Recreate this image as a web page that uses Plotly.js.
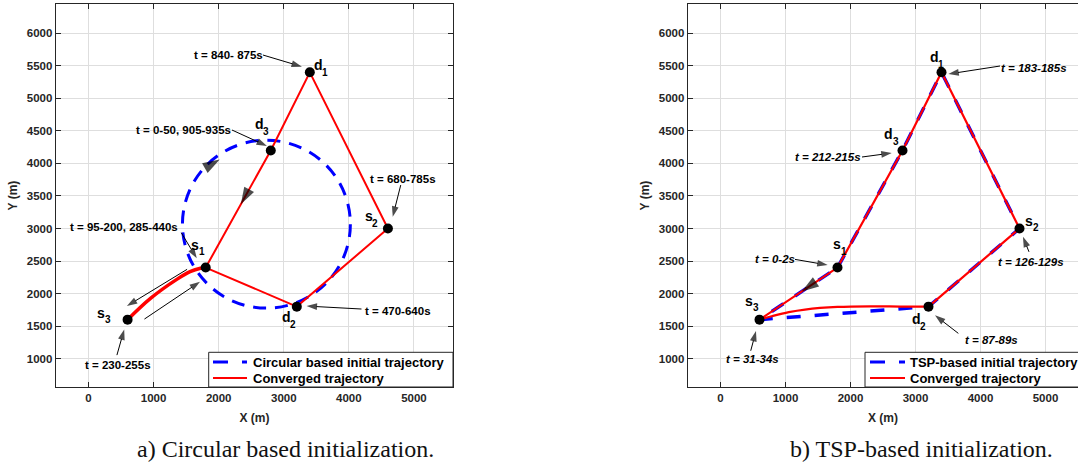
<!DOCTYPE html>
<html>
<head>
<meta charset="utf-8">
<script src="https://cdn.plot.ly/plotly-3.0.1.min.js"></script>
<style>html,body{margin:0;padding:0;background:#fff;}#chart{width:1078px;height:466px;}</style>
</head>
<body>
<div id="chart"></div>
<script>
// ---------------- data ----------------
const nodeNames = ['s1', 'd2', 's2', 'd1', 'd3', 's3'];
const nodeX = [1800, 3200, 4600, 3400, 2800, 600];
const nodeY = [2400, 1800, 3000, 5400, 4200, 1600];

// (a) circular initialization
const circleCenter = [2733, 3067];
const circleRadius = 1290;
const convAX = [1800, 2800, 3400, 4600, 3200, 1800];
const convAY = [2400, 4200, 5400, 3000, 1800, 2400];
const convALinkX = [600, 952, 1356, 1560, 1720, 1800];
const convALinkY = [1600, 1927, 2219, 2337, 2390, 2400];

// (b) TSP initialization
const tspX = [1800, 2800, 3400, 4600, 3200, 600, 1800];
const tspY = [2400, 4200, 5400, 3000, 1800, 1600, 2400];
const convBX = [600, 1800, 2800, 3400, 4600, 3200];
const convBY = [1600, 2400, 4200, 5400, 3000, 1800];
const convBCurveX = [3200, 2800, 2300, 1800, 1300, 1050, 800, 600];
const convBCurveY = [1800, 1800, 1805, 1795, 1755, 1715, 1655, 1600];

// node labels (letter + subscript index)
const labelLetter = ['d', 'd', 's', 's', 'd', 's'];
const labelIndex = ['1', '3', '2', '1', '2', '3'];
const labelAX = [3536, 2629, 4303, 1637, 3037, 195];
const labelAY = [5517, 4609, 3192, 2754, 1644, 1709];
const labelBX = [3285, 2592, 4746, 1788, 3008, 438];
const labelBY = [5633, 4452, 3123, 2762, 1609, 1893];

// time annotations (a)
const timeAText = ['t = 840- 875s', 't = 0-50, 905-935s', 't = 680-785s', 't = 95-200, 285-440s', 't = 470-640s', 't = 230-255s'];
const timeAX = [2143, 1453, 4835, 548, 4759, 453];
const timeAY = [5666, 4514, 3756, 3027, 1736, 902];
const arrowATailX = [2680, 2204, 4797, 1425, 4194, 436, 1514, 859];
const arrowATailY = [5666, 4514, 3668, 2935, 1763, 1055, 2373, 1609];
const arrowAHeadX = [3279, 2741, 4674, 1663, 3350, 548, 589, 1713];
const arrowAHeadY = [5487, 4268, 3181, 2542, 1809, 1450, 1809, 2182];
// direction heads on trajectories (a)
const dirATailX = [1850, 2437];
const dirATailY = [3965, 3547];
const dirAHeadX = [2015, 2340];
const dirAHeadY = [4060, 3372];

// time annotations (b)
const timeBText = ['t = 183-185s', 't = 212-215s', 't = 126-129s', 't = 0-2s', 't = 31-34s', 't = 87-89s'];
const timeBX = [4823, 1654, 4777, 838, 485, 4162];
const timeBY = [5471, 4099, 2480, 2526, 989, 1286];
const arrowBTailX = [4300, 2177, 4746, 1146, 465, 3659];
const arrowBTailY = [5497, 4099, 2642, 2526, 1122, 1389];
const arrowBHeadX = [3505, 2634, 4654, 1649, 546, 3300];
const arrowBHeadY = [5374, 4160, 2873, 2439, 1425, 1666];
const dirBTailX = [1416];
const dirBTailY = [2144];
const dirBHeadX = [1250];
const dirBHeadY = [2033];

const captions = ['a) Circular based initialization.', 'b) TSP-based initialization.'];
const legendNames = ['Circular based initial trajectory', 'TSP-based initial trajectory', 'Converged trajectory'];

// ---------------- styling ----------------
const SANS = 'Liberation Sans, Arial, Helvetica, sans-serif';
const INK = '#262626';
const BLUE = '#0000ff';
const RED = '#ff0000';
const W = 1078, H = 466;
const px = v => v / W;           // figure px -> paper x
const py = v => (H - v) / H;     // figure px -> paper y

const traces = [
  {x: convAX, y: convAY, type: 'scatter', mode: 'lines', name: legendNames[2],
   line: {color: RED, width: 2}, xaxis: 'x', yaxis: 'y'},
  {x: convALinkX, y: convALinkY, type: 'scatter', mode: 'lines', name: legendNames[2],
   line: {color: RED, width: 3.5, shape: 'spline'}, xaxis: 'x', yaxis: 'y'},
  {x: nodeX, y: nodeY, type: 'scatter', mode: 'markers', name: 'nodes',
   marker: {color: '#000', size: 10}, xaxis: 'x', yaxis: 'y', text: nodeNames, hoverinfo: 'text'},

  {x: tspX, y: tspY, type: 'scatter', mode: 'lines', name: legendNames[1],
   line: {color: BLUE, width: 3.5, dash: '14px,14px'}, xaxis: 'x2', yaxis: 'y2'},
  {x: convBX, y: convBY, type: 'scatter', mode: 'lines', name: legendNames[2],
   line: {color: RED, width: 2.2}, xaxis: 'x2', yaxis: 'y2'},
  {x: convBCurveX, y: convBCurveY, type: 'scatter', mode: 'lines', name: legendNames[2],
   line: {color: RED, width: 2.2, shape: 'spline'}, xaxis: 'x2', yaxis: 'y2'},
  {x: nodeX, y: nodeY, type: 'scatter', mode: 'markers', name: 'nodes',
   marker: {color: '#000', size: 10}, xaxis: 'x2', yaxis: 'y2', text: nodeNames, hoverinfo: 'text'}
];

// arrows as small traces: thin line + arrow marker oriented along the segment
function addArrowTraces(tx, ty, hx, hy, xa, ya, headSize, withLine) {
  tx.forEach((_, i) => traces.push({
    x: [tx[i], hx[i]], y: [ty[i], hy[i]], xaxis: xa, yaxis: ya, type: 'scatter',
    mode: withLine ? 'lines+markers' : 'markers', hoverinfo: 'skip',
    line: {color: '#000', width: 1},
    marker: {symbol: 'arrow', size: [0, headSize], angleref: 'previous', color: '#000', line: {width: 0}}
  }));
}
addArrowTraces(arrowATailX, arrowATailY, arrowAHeadX, arrowAHeadY, 'x', 'y', 11, true);
addArrowTraces(arrowBTailX, arrowBTailY, arrowBHeadX, arrowBHeadY, 'x2', 'y2', 11, true);
addArrowTraces(dirATailX, dirATailY, dirAHeadX, dirAHeadY, 'x', 'y', 18, false);
addArrowTraces(dirBTailX, dirBTailY, dirBHeadX, dirBHeadY, 'x2', 'y2', 18, false);

const annotations = [];
function addLabels(xs, ys, xr, yr) {
  labelLetter.forEach((t, i) => {
    annotations.push({
      text: t, x: xs[i], y: ys[i], xref: xr, yref: yr, showarrow: false,
      xanchor: 'center', yanchor: 'middle',
      font: {family: SANS, size: 14, color: '#000', weight: 'bold'}
    });
    annotations.push({
      text: labelIndex[i], x: xs[i], y: ys[i], xref: xr, yref: yr, showarrow: false,
      xanchor: 'center', yanchor: 'middle', xshift: 6.8, yshift: -7.3,
      font: {family: SANS, size: 10, color: '#000', weight: 'bold'}
    });
  });
}
function addTimes(texts, xs, ys, xr, yr, italic) {
  texts.forEach((t, i) => annotations.push({
    text: t, x: xs[i], y: ys[i], xref: xr, yref: yr, showarrow: false,
    xanchor: 'center', yanchor: 'middle',
    font: {family: SANS, size: 11.5, color: '#000', weight: 'bold', style: italic ? 'italic' : 'normal'}
  }));
}
addLabels(labelAX, labelAY, 'x', 'y');
addLabels(labelBX, labelBY, 'x2', 'y2');
addTimes(timeAText, timeAX, timeAY, 'x', 'y', false);
addTimes(timeBText, timeBX, timeBY, 'x2', 'y2', true);

const capX = [285, 921.5];
captions.forEach((c, i) => annotations.push({
  text: c, x: px(capX[i]), y: py(449), xref: 'paper', yref: 'paper', showarrow: false,
  xanchor: 'center', yanchor: 'middle',
  font: {family: 'Liberation Serif, Times New Roman, serif', size: 24, color: '#111', weight: 'normal'}
}));

// legend boxes (MATLAB style: box, line samples, text)
const shapes = [{
  type: 'circle', xref: 'x', yref: 'y', layer: 'between',
  x0: circleCenter[0] - circleRadius, x1: circleCenter[0] + circleRadius,
  y0: circleCenter[1] - circleRadius, y1: circleCenter[1] + circleRadius,
  line: {color: BLUE, width: 3, dash: '13px,9px'}
}];
const legBoxes = [
  {left: 208.7, right: 453, sample0: 213, sample1: 247, text0: 250.7, first: legendNames[0]},
  {left: 865, right: 1085, sample0: 870, sample1: 905, text0: 908.3, first: legendNames[1]}
];
legBoxes.forEach(b => {
  shapes.push({type: 'rect', xref: 'paper', yref: 'paper', layer: 'above',
    x0: px(b.left), x1: px(b.right), y0: py(387), y1: py(352.3),
    fillcolor: '#ffffff', line: {color: INK, width: 1}});
  shapes.push({type: 'line', xref: 'paper', yref: 'paper', layer: 'above',
    x0: px(b.sample0), x1: px(b.sample1), y0: py(362), y1: py(362),
    line: {color: BLUE, width: 3, dash: '15px,14px'}});
  shapes.push({type: 'line', xref: 'paper', yref: 'paper', layer: 'above',
    x0: px(b.sample0), x1: px(b.sample1), y0: py(378), y1: py(378),
    line: {color: RED, width: 2}});
  [[b.first, 362.8], [legendNames[2], 378.3]].forEach(([t, yy]) => annotations.push({
    text: t, x: px(b.text0), y: py(yy), xref: 'paper', yref: 'paper', showarrow: false,
    xanchor: 'left', yanchor: 'middle',
    font: {family: SANS, size: 13, color: '#000', weight: 'bold'}
  }));
});

function axisBase() {
  return {
    showline: true, linecolor: INK, linewidth: 1.3,
    ticks: 'inside', ticklen: 5, tickwidth: 1, tickcolor: INK,
    showgrid: true, gridcolor: '#dedede', gridwidth: 1, zeroline: false,
    tickfont: {family: SANS, size: 11.5, color: INK, weight: 'bold'},
    fixedrange: true
  };
}
const titleFont = {family: SANS, size: 12, color: INK, weight: 'bold'};
const yDom = [py(387), py(4)];
const xaxis = Object.assign(axisBase(), {domain: [px(56), px(453)], range: [-500, 5600], dtick: 1000, tick0: 0, mirror: 'ticks', anchor: 'y',
  title: {text: 'X (m)', font: titleFont, standoff: 10}});
const yaxis = Object.assign(axisBase(), {domain: yDom, range: [565, 6450], dtick: 500, tick0: 0, mirror: 'ticks', anchor: 'x',
  title: {text: 'Y (m)', font: titleFont, standoff: 6}});
const xaxis2 = Object.assign(axisBase(), {domain: [px(688), 1], range: [-500, 5500], dtick: 1000, tick0: 0, mirror: 'ticks', anchor: 'y2',
  title: {text: 'X (m)', font: titleFont, standoff: 10}});
const yaxis2 = Object.assign(axisBase(), {domain: yDom, range: [565, 6450], dtick: 500, tick0: 0, mirror: false, anchor: 'x2',
  title: {text: 'Y (m)', font: titleFont, standoff: 6}});

const layout = {
  width: W, height: H,
  margin: {l: 0, r: 0, t: 0, b: 0, pad: 0},
  paper_bgcolor: '#ffffff', plot_bgcolor: '#ffffff',
  font: {family: SANS, color: INK},
  showlegend: false,
  xaxis: xaxis, yaxis: yaxis, xaxis2: xaxis2, yaxis2: yaxis2,
  shapes: shapes,
  annotations: annotations
};

Plotly.newPlot('chart', traces, layout, {displayModeBar: false, staticPlot: true});
</script>
</body>
</html>
